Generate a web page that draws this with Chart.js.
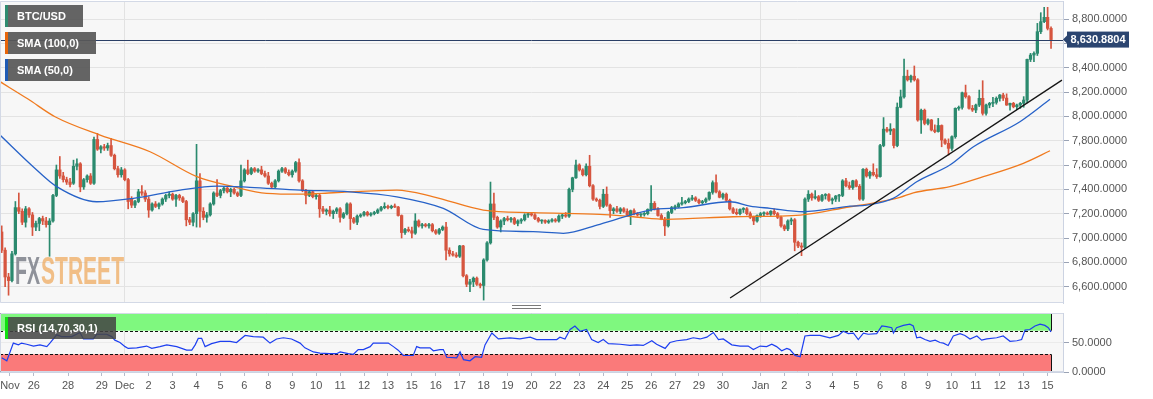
<!DOCTYPE html>
<html>
<head>
<meta charset="utf-8">
<title>BTC/USD</title>
<script src="https://cdn.jsdelivr.net/npm/chart.js@4.4.1/dist/chart.umd.min.js"></script>
<style>
  html, body { margin: 0; padding: 0; background: #fff; }
  body { width: 1153px; height: 399px; position: relative; overflow: hidden; font-family: "Liberation Sans", Arial, sans-serif; }
  #mainBox { position: absolute; left: 0; top: 0; width: 1153px; height: 304px; }
  #rsiBox { position: absolute; left: 0; top: 304px; width: 1153px; height: 95px; }
  .tag { position: absolute; left: 5px; height: 22px; line-height: 22px; box-sizing: border-box; padding-left: 9px;
         border-left: 3px solid; background: rgba(88,88,88,0.93); color: #fff; font-size: 11px; font-weight: bold; white-space: nowrap; }
  .grip { position: absolute; left: 512px; top: 305px; width: 29px; height: 2px; border-top: 1px solid #7a7a7a; border-bottom: 1px solid #7a7a7a; }
</style>
</head>
<body>
<div id="mainBox"><canvas id="mainChart"></canvas></div>
<div id="rsiBox"><canvas id="rsiChart"></canvas></div>
<div class="tag" style="top:5px;width:78px;border-color:#2e8b6f">BTC/USD</div>
<div class="tag" style="top:32px;width:91px;border-color:#e8650a">SMA (100,0)</div>
<div class="tag" style="top:59px;width:85px;border-color:#1f5bb5">SMA (50,0)</div>
<div class="tag" style="top:317px;width:111px;border-color:#10e010;background:rgba(68,68,68,0.86)">RSI (14,70,30,1)</div>
<div class="grip"></div>
<script>
// 4h candles, index 0 = Nov 25 00:00 ... index 307 = Jan 15 04:00
// [open, high, low, close]
const candles = [
  [7050,7100,6880,6900],[6900,6920,6600,6680],[6680,6710,6530,6650],[6650,6890,6640,6870],[6870,7300,6860,7250],[7250,7370,7200,7220],[7220,7240,7110,7130],[7130,7260,7090,7240],[7240,7250,7170,7190],[7190,7210,7020,7090],
  [7090,7140,7060,7120],[7120,7170,7060,7160],[7160,7180,7110,7140],[7140,7170,7090,7110],[7110,7160,6850,7140],[7140,7360,7130,7350],[7350,7600,7340,7560],[7560,7670,7490,7510],[7510,7540,7460,7480],[7480,7500,7440,7460],
  [7460,7490,7420,7440],[7450,7640,7440,7590],[7590,7650,7560,7610],[7610,7620,7380,7420],[7420,7490,7400,7480],[7480,7520,7460,7510],[7510,7530,7440,7450],[7450,7830,7440,7810],[7810,7860,7720,7730],[7730,7760,7700,7750],
  [7750,7770,7720,7740],[7740,7780,7720,7760],[7760,7820,7670,7680],[7680,7690,7560,7570],[7570,7590,7500,7520],[7520,7580,7500,7560],[7560,7570,7470,7480],[7480,7490,7240,7300],[7320,7340,7250,7270],[7270,7310,7250,7300],
  [7300,7400,7290,7380],[7380,7430,7350,7370],[7370,7390,7300,7320],[7320,7340,7170,7230],[7230,7290,7220,7280],[7280,7300,7250,7260],[7260,7290,7240,7280],[7280,7330,7270,7320],[7320,7360,7300,7350],[7350,7380,7330,7360],
  [7360,7370,7310,7320],[7320,7360,7260,7350],[7350,7360,7310,7330],[7330,7340,7290,7300],[7300,7310,7100,7150],[7150,7170,7110,7130],[7130,7210,7100,7200],[7200,7770,7090,7470],[7470,7530,7090,7220],[7220,7250,7150,7170],
  [7170,7210,7130,7190],[7190,7290,7180,7280],[7280,7380,7270,7370],[7370,7480,7340,7350],[7350,7400,7330,7390],[7390,7420,7370,7410],[7410,7420,7370,7380],[7380,7410,7340,7400],[7400,7410,7360,7370],[7370,7380,7340,7350],
  [7350,7600,7340,7470],[7470,7570,7460,7560],[7560,7640,7520,7530],[7530,7580,7520,7570],[7570,7580,7540,7550],[7550,7570,7540,7560],[7560,7590,7520,7530],[7530,7550,7500,7510],[7510,7540,7440,7450],[7450,7460,7410,7420],
  [7420,7480,7410,7470],[7470,7560,7460,7550],[7550,7580,7540,7570],[7570,7580,7530,7540],[7540,7560,7510,7520],[7520,7560,7500,7550],[7550,7630,7540,7620],[7620,7650,7460,7470],[7470,7480,7380,7390],[7390,7400,7280,7350],
  [7350,7390,7340,7380],[7380,7390,7330,7340],[7340,7360,7320,7350],[7350,7360,7170,7240],[7240,7260,7200,7220],[7220,7240,7190,7230],[7230,7260,7180,7200],[7200,7230,7160,7220],[7220,7250,7200,7240],[7240,7250,7130,7170],
  [7170,7210,7160,7200],[7200,7290,7190,7280],[7280,7290,7070,7160],[7160,7170,7120,7130],[7130,7190,7110,7180],[7180,7200,7170,7190],[7190,7220,7180,7210],[7210,7220,7180,7190],[7190,7210,7180,7200],[7200,7220,7190,7210],
  [7210,7240,7200,7230],[7230,7260,7220,7250],[7250,7290,7240,7260],[7260,7270,7240,7250],[7250,7270,7240,7260],[7260,7280,7250,7255],[7255,7260,7180,7185],[7185,7190,7000,7045],[7045,7080,7030,7070],[7070,7090,7050,7060],
  [7060,7090,7000,7040],[7040,7200,7030,7140],[7140,7150,7090,7100],[7100,7120,7080,7110],[7110,7120,7090,7100],[7100,7120,7080,7110],[7110,7120,7050,7060],[7060,7070,7030,7040],[7040,7080,7030,7070],[7070,7100,7060,7090],
  [7090,7130,6820,6900],[6900,6920,6850,6870],[6870,6890,6850,6860],[6860,6880,6840,6850],[6850,6940,6840,6935],[6935,6940,6680,6690],[6690,6700,6600,6620],[6620,6660,6560,6640],[6640,6680,6600,6670],[6670,6680,6610,6620],
  [6620,6630,6590,6610],[6610,6830,6490,6820],[6820,6970,6810,6960],[6960,7460,6950,7280],[7280,7370,7150,7170],[7170,7180,7080,7090],[7090,7150,7050,7140],[7140,7170,7110,7160],[7160,7180,7140,7150],[7150,7170,7130,7160],
  [7160,7170,7110,7120],[7120,7150,7100,7140],[7140,7160,7120,7150],[7150,7200,7140,7190],[7190,7210,7170,7200],[7200,7210,7180,7190],[7190,7200,7150,7160],[7160,7170,7130,7140],[7140,7150,7120,7145],[7145,7150,7120,7130],
  [7130,7150,7120,7140],[7140,7160,7130,7150],[7150,7160,7130,7140],[7140,7190,7130,7180],[7180,7200,7160,7190],[7190,7210,7170,7180],[7180,7410,7170,7400],[7400,7500,7380,7495],[7495,7640,7490,7600],[7600,7610,7550,7560],
  [7560,7570,7510,7520],[7520,7610,7510,7590],[7590,7680,7420,7430],[7430,7440,7310,7320],[7320,7330,7300,7310],[7310,7320,7240,7260],[7260,7400,7250,7360],[7360,7420,7260,7270],[7270,7280,7170,7225],[7225,7250,7200,7240],
  [7240,7260,7210,7220],[7220,7250,7200,7240],[7240,7250,7210,7220],[7220,7240,7180,7190],[7190,7230,7110,7225],[7225,7240,7190,7200],[7200,7210,7180,7190],[7190,7200,7170,7195],[7195,7210,7180,7200],[7200,7240,7190,7235],
  [7235,7430,7220,7285],[7285,7300,7230,7240],[7240,7250,7180,7185],[7185,7200,7150,7155],[7155,7170,7020,7100],[7100,7220,7090,7210],[7210,7260,7200,7250],[7250,7270,7230,7255],[7255,7290,7250,7280],[7280,7335,7270,7290],
  [7290,7310,7280,7300],[7300,7330,7290,7320],[7320,7350,7310,7330],[7330,7340,7300,7310],[7310,7320,7280,7290],[7290,7310,7280,7300],[7300,7330,7290,7320],[7320,7380,7310,7375],[7375,7470,7360,7455],[7455,7520,7370,7380],
  [7380,7390,7330,7335],[7335,7370,7320,7360],[7360,7370,7300,7310],[7310,7320,7230,7240],[7240,7250,7200,7210],[7210,7240,7190,7200],[7200,7240,7190,7235],[7235,7250,7210,7240],[7240,7250,7190,7200],[7200,7215,7160,7170],
  [7170,7180,7110,7140],[7140,7190,7130,7185],[7185,7210,7170,7200],[7200,7215,7180,7205],[7205,7215,7190,7195],[7195,7225,7185,7220],[7220,7240,7190,7200],[7200,7210,7160,7170],[7170,7180,7090,7100],[7100,7110,7060,7075],
  [7075,7150,7060,7140],[7140,7165,7110,7150],[7150,7160,6895,6965],[6965,6975,6920,6935],[6935,6960,6855,6925],[6925,7330,6915,7320],[7320,7390,7300,7360],[7360,7370,7310,7330],[7330,7390,7320,7340],[7340,7350,7300,7310],
  [7310,7360,7300,7350],[7350,7365,7320,7358],[7358,7365,7300,7310],[7310,7330,7280,7320],[7320,7350,7300,7345],[7345,7360,7300,7350],[7350,7480,7340,7470],[7470,7490,7420,7430],[7430,7460,7400,7415],[7415,7475,7400,7470],
  [7470,7480,7420,7425],[7425,7440,7310,7320],[7320,7570,7310,7565],[7565,7575,7500,7510],[7510,7550,7490,7540],[7540,7610,7510,7520],[7520,7570,7490,7505],[7505,7770,7500,7760],[7760,7990,7750,7895],[7895,7910,7870,7880],
  [7880,7940,7850,7895],[7895,7900,7740,7760],[7760,8110,7750,8075],[8075,8216,8070,8160],[8160,8470,8150,8330],[8330,8380,8290,8300],[8300,8340,8280,8330],[8330,8414,8290,8300],[8300,8310,7960,7970],[7970,8060,7860,8050],
  [8050,8060,7930,7942],[7942,7980,7930,7970],[7970,7975,7880,7888],[7888,7930,7865,7875],[7875,7983,7870,7925],[7925,7930,7750,7805],[7805,7815,7770,7778],[7778,7815,7682,7737],[7737,7840,7720,7833],[7833,8070,7820,8066],
  [8066,8085,8050,8074],[8074,8200,8060,8194],[8194,8257,8150,8162],[8162,8170,8060,8066],[8066,8090,8040,8052],[8052,8100,8030,8093],[8093,8216,8080,8148],[8148,8293,8010,8025],[8025,8100,8010,8093],[8093,8115,8070,8107],
  [8107,8156,8080,8115],[8115,8160,8100,8148],[8148,8180,8125,8175],[8175,8190,8130,8150],[8150,8185,8090,8093],[8093,8110,8050,8107],[8107,8115,8070,8079],[8079,8100,8055,8093],[8093,8115,8065,8107],[8107,8162,8075,8134],
  [8134,8470,8110,8468],[8468,8518,8450,8504],[8504,8530,8450,8518],[8518,8764,8500,8696],[8696,8852,8680,8778],[8778,8896,8770,8814],[8814,8896,8710,8723],[8723,8735,8559,8630.88]
];
const lastPrice = 8630.8804;

// moving averages (candle index -> value)
const sma100Idx = [-0.5, 7.7, 15.6, 28.8, 43.4, 57.1, 67.8, 77.5, 87.3, 97, 115.6, 126.3, 140.9, 155.5, 175, 184.8, 194.5, 214, 233.6, 248.2, 254.5, 262.8, 266.7, 277.4, 287.2, 298.9, 306.7];
const sma100 = [8285, 8142, 7997, 7846, 7709, 7504, 7422, 7367, 7360, 7372, 7394, 7339, 7230, 7208, 7195, 7175, 7154, 7175, 7189, 7257, 7285, 7334, 7372, 7422, 7504, 7614, 7717];
const sma50Idx = [-0.5, 9.2, 16.1, 27.8, 38.5, 52.2, 62.9, 72.6, 87.3, 101.9, 115.6, 129.2, 140.9, 155.5, 164.3, 175, 189.7, 199.4, 213.1, 218.9, 224.8, 234.5, 248.2, 253.1, 260.8, 267.7, 277.4, 284.3, 297.9, 306.7];
const sma50 = [7846, 7586, 7422, 7298, 7326, 7394, 7427, 7417, 7394, 7380, 7339, 7244, 7071, 7052, 7039, 7113, 7230, 7249, 7298, 7263, 7244, 7216, 7262, 7271, 7326, 7463, 7600, 7750, 7956, 8140];

// hand drawn trend line
const trendIdx = [213.1, 310.2];
const trendVal = [6507, 8298];

// RSI (14)
const rsiIdx = [0,1.5,3.4,4.9,5.8,7.3,9.3,11.2,13.2,14.1,16.1,17.5,20.5,22.9,23.9,26.8,27.8,30.7,32.2,33.1,34.6,36.1,37,39.5,42.4,43.9,46.3,48.3,51.2,54.1,55.6,56.6,57.5,58.5,59.5,61.4,63.9,66.8,68.7,71.2,73.6,76.5,78.5,80.4,82.4,84.8,87.3,88.7,91.2,93.1,96,98,99,101.4,102.9,104.3,105.8,107.8,108.7,110.7,113.1,114.6,116,
  117.5,120.4,121.4,122.4,125.3,126.3,128.2,129.2,130.2,133.1,134.1,135.1,137,138.5,140.4,141.4,143.4,145.3,148.7,151.6,154.6,156.5,159.5,162.4,163.3,164.8,166.3,167.7,169.2,171.1,172.6,174.5,176,177.5,180.9,183.8,185.8,187.7,190.2,191.6,194.1,195.5,197.5,200.4,202.3,204.3,206.3,208.2,209.7,211.1,213.6,216,218.4,219.9,221.9,223.8,225.3,226.7,228.2,229.7,230.6,232.1,233.6,
  235,236.5,239.4,242.3,244.8,246.2,247.7,249.2,250.6,252.1,253.5,256,257.5,258.9,260.4,260.9,261.8,263.8,265.7,266.7,267.7,268.7,270.1,271.6,273.1,274.5,275.5,276.9,278.4,280.4,281.8,283.3,285.3,286.7,288.2,291.1,293,295,297,298.4,299.4,300.8,302.3,303.8,305.2,306.2,307];
const rsi = [24,19,49,46,49,47,44,46,43,49,63,60,60,67,56,56,64,64,60,54,50,43,40,41,44,40,43,46,43,37,37,46,57,57,43,48,52,52,50,62,60,59,49,56,58,56,49,41,34,32,31,31,34,31,30,38,38,43,49,49,49,43,37,
  28,28,43,41,41,36,38,38,25,24,34,21,19,26,25,46,66,56,58,56,59,55,55,55,59,56,72,78,69,72,55,50,55,48,47,45,46,45,53,47,40,50,53,55,58,56,59,67,55,56,46,44,44,38,44,43,47,43,36,40,38,28,26,
  61,62,62,58,62,69,65,66,55,66,64,65,78,77,75,66,75,79,81,78,58,59,55,52,54,50,49,45,61,65,62,56,61,54,56,58,61,52,53,55,71,72,78,81,79,75,68];
const rsiBandEnd = 307;

// x axis ticks (candle index -> label)
const tickLabels = ['Nov','26','28','29','Dec','2','3','4','5','6','8','9','10','11','12','13','15','16','17','18','19','20','22','23','24','25','26','27','29','30','Jan','2','3','4','5','6','8','9','10','11','12','13','15'];
const tickIdx = [2.4,9.4,19.4,29.3,36,43,50,57,64,71,78,85,92,99,106,113,120,127,134,141,148,155,162,169,176,183,190,197,204,211,222,229,236,243,250,257,264,271,278,285,292,299,306];
const priceTicks = [6600, 6800, 7000, 7200, 7400, 7600, 7800, 8000, 8200, 8400, 8600, 8800];

const xMin = -0.5, xMax = 310.5;
const upColor = '#2b8a6e', downColor = '#d6553f';
const fontFamily = '"Liberation Sans", Arial, sans-serif';
Chart.defaults.font.family = fontFamily;

function fmt(v) {
  return v.toLocaleString('en-US', { minimumFractionDigits: 4, maximumFractionDigits: 4 });
}
function monthGrid(ctx) {
  const lab = tickLabels[ctx.index];
  return (lab === 'Dec' || lab === 'Jan') ? '#e2e2e2' : 'rgba(0,0,0,0)';
}
function candleColor(ctx) {
  const c = candles[ctx.dataIndex];
  if (!c) return upColor;
  return c[3] >= c[0] ? upColor : downColor;
}

const panelBg = {
  id: 'panelBg',
  beforeDraw(chart) {
    const { ctx, chartArea: a } = chart;
    ctx.save();
    ctx.fillStyle = '#f7f7f7';
    ctx.fillRect(a.left, a.top, a.right - a.left, a.bottom - a.top);
    ctx.restore();
  },
  afterDraw(chart) {
    const { ctx, chartArea: a } = chart;
    ctx.save();
    ctx.strokeStyle = '#d3d9e6';
    ctx.lineWidth = 1;
    ctx.beginPath();
    ctx.moveTo(a.right, a.top + 0.5); ctx.lineTo(a.left + 0.5, a.top + 0.5);
    ctx.lineTo(a.left + 0.5, a.bottom - 0.5); ctx.lineTo(a.right, a.bottom - 0.5);
    ctx.stroke();
    ctx.restore();
  }
};

const watermark = {
  id: 'watermark',
  beforeDatasetsDraw(chart) {
    const ctx = chart.ctx;
    ctx.save();
    ctx.font = 'bold 38px "Liberation Sans Narrow", "Liberation Sans", sans-serif';
    ctx.textBaseline = 'alphabetic';
    ctx.textAlign = 'left';
    ctx.fillStyle = 'rgba(125,128,138,0.85)';
    ctx.fillText('FX', 15, 284, 25);
    ctx.fillStyle = 'rgba(238,165,85,0.7)';
    ctx.fillText('STREET', 41, 284, 83);
    ctx.restore();
  }
};

const priceMarker = {
  id: 'priceMarker',
  afterDatasetsDraw(chart) {
    const { ctx, chartArea: a, scales: { y } } = chart;
    const py = Math.round(y.getPixelForValue(lastPrice)) + 0.5;
    ctx.save();
    ctx.strokeStyle = '#2a3f66';
    ctx.lineWidth = 1;
    ctx.beginPath();
    ctx.moveTo(a.left, py); ctx.lineTo(a.right, py);
    ctx.stroke();
    ctx.restore();
  },
  afterDraw(chart) {
    const { ctx, chartArea: a, scales: { y } } = chart;
    const py = y.getPixelForValue(lastPrice);
    const bx = a.right + 4, bw = 62, bh = 16;
    ctx.save();
    ctx.fillStyle = '#2b4570';
    ctx.fillRect(bx, py - bh / 2, bw, bh);
    ctx.beginPath();
    ctx.moveTo(bx, py - 4); ctx.lineTo(bx - 4, py); ctx.lineTo(bx, py + 4);
    ctx.closePath(); ctx.fill();
    ctx.fillStyle = '#fff';
    ctx.font = 'bold 11px ' + fontFamily;
    ctx.textAlign = 'center';
    ctx.textBaseline = 'middle';
    ctx.fillText(fmt(lastPrice), bx + bw / 2, py + 0.5);
    ctx.restore();
  }
};

new Chart(document.getElementById('mainChart'), {
  type: 'bar',
  data: {
    datasets: [
      {
        type: 'line', label: 'trend',
        data: trendIdx.map((x, i) => ({ x, y: trendVal[i] })),
        borderColor: '#151515', borderWidth: 1.3, pointRadius: 0, order: 0
      },
      {
        type: 'line', label: 'SMA (50,0)',
        data: sma50Idx.map((x, i) => ({ x, y: sma50[i] })),
        borderColor: '#2762c8', borderWidth: 1.3, pointRadius: 0, cubicInterpolationMode: 'monotone', order: 1
      },
      {
        type: 'line', label: 'SMA (100,0)',
        data: sma100Idx.map((x, i) => ({ x, y: sma100[i] })),
        borderColor: '#f07a1e', borderWidth: 1.3, pointRadius: 0, cubicInterpolationMode: 'monotone', order: 1
      },
      {
        label: 'body',
        data: candles.map((c, i) => ({ x: i, y: [c[0], c[3]] })),
        backgroundColor: candleColor, barThickness: 2.6, minBarLength: 1, grouped: false, order: 2
      },
      {
        label: 'wick',
        data: candles.map((c, i) => ({ x: i, y: [c[2], c[1]] })),
        backgroundColor: candleColor, barThickness: 1, grouped: false, order: 3
      }
    ]
  },
  options: {
    animation: false,
    responsive: true,
    maintainAspectRatio: false,
    layout: { padding: { top: 1, bottom: 1, left: 0, right: 0 } },
    plugins: { legend: { display: false }, tooltip: { enabled: false } },
    scales: {
      x: {
        type: 'linear', min: xMin, max: xMax, offset: false,
        afterBuildTicks: s => { s.ticks = tickIdx.map(v => ({ value: v })); },
        ticks: { display: false },
        grid: { drawTicks: false, offset: false, color: monthGrid },
        border: { display: false },
        afterFit: s => { s.height = 0; s.paddingLeft = 0; s.paddingRight = 0; }
      },
      y: {
        position: 'right', min: 6466, max: 8948,
        afterBuildTicks: s => { s.ticks = priceTicks.map(v => ({ value: v })); },
        ticks: { callback: v => fmt(v), color: '#555', font: { size: 11 }, padding: 3 },
        grid: { color: '#e3e3e3', tickLength: 6, tickColor: '#9aa3b5' },
        border: { color: '#ccd3e2' },
        afterFit: s => { s.width = 90; s.paddingTop = 0; s.paddingBottom = 0; }
      }
    }
  },
  plugins: [panelBg, watermark, priceMarker]
});

const rsiBands = {
  id: 'rsiBands',
  beforeDatasetsDraw(chart) {
    const { ctx, scales: { x, y } } = chart;
    const x0 = Math.round(x.getPixelForValue(xMin)), x1 = Math.round(x.getPixelForValue(rsiBandEnd));
    const y100 = y.getPixelForValue(100), y70 = y.getPixelForValue(70);
    const y30 = y.getPixelForValue(30), y0 = y.getPixelForValue(0);
    ctx.save();
    ctx.fillStyle = '#7ff87f';
    ctx.fillRect(x0, y100, x1 - x0, y70 - y100);
    ctx.fillStyle = '#fa7a7a';
    ctx.fillRect(x0, y30, x1 - x0, y0 - y30);
    ctx.strokeStyle = '#111';
    ctx.lineWidth = 1;
    ctx.setLineDash([3, 2]);
    ctx.beginPath();
    ctx.moveTo(x0, Math.round(y70) + 0.5); ctx.lineTo(x1, Math.round(y70) + 0.5);
    ctx.moveTo(x0, Math.round(y30) + 0.5); ctx.lineTo(x1, Math.round(y30) + 0.5);
    ctx.stroke();
    ctx.setLineDash([]);
    ctx.beginPath();
    ctx.moveTo(x0 + 0.5, y100); ctx.lineTo(x0 + 0.5, y70);
    ctx.moveTo(x1 + 0.5, y100); ctx.lineTo(x1 + 0.5, y70);
    ctx.moveTo(x0 + 0.5, y30); ctx.lineTo(x0 + 0.5, y0);
    ctx.moveTo(x1 + 0.5, y30); ctx.lineTo(x1 + 0.5, y0);
    ctx.stroke();
    ctx.restore();
  }
};

new Chart(document.getElementById('rsiChart'), {
  type: 'line',
  data: {
    datasets: [{
      label: 'RSI',
      data: rsiIdx.map((x, i) => ({ x, y: rsi[i] })),
      borderColor: '#1d3ff0', borderWidth: 1.2, pointRadius: 0, tension: 0
    }]
  },
  options: {
    animation: false,
    responsive: true,
    maintainAspectRatio: false,
    layout: { padding: { top: 9, bottom: 0, left: 0, right: 0 } },
    plugins: { legend: { display: false }, tooltip: { enabled: false } },
    scales: {
      x: {
        type: 'linear', min: xMin, max: xMax, offset: false,
        afterBuildTicks: s => { s.ticks = tickIdx.map(v => ({ value: v })); },
        ticks: { autoSkip: false, maxRotation: 0, color: '#555', font: { size: 11 }, padding: 3,
                 callback: (v, i) => tickLabels[i] },
        grid: { color: monthGrid, tickLength: 4, tickColor: '#b5bccb', offset: false },
        border: { color: '#ccd3e2' },
        afterFit: s => { s.height = 27; s.paddingLeft = 0; s.paddingRight = 0; }
      },
      y: {
        position: 'right', min: 0, max: 100,
        afterBuildTicks: s => { s.ticks = [{ value: 0 }, { value: 50 }]; },
        ticks: { callback: v => fmt(v), color: '#555', font: { size: 11 }, padding: 3 },
        grid: { color: '#ebebeb', tickLength: 6, tickColor: '#9aa3b5' },
        border: { color: '#ccd3e2' },
        afterFit: s => { s.width = 90; s.paddingTop = 0; s.paddingBottom = 0; }
      }
    }
  },
  plugins: [panelBg, rsiBands]
});
</script>
</body>
</html>
